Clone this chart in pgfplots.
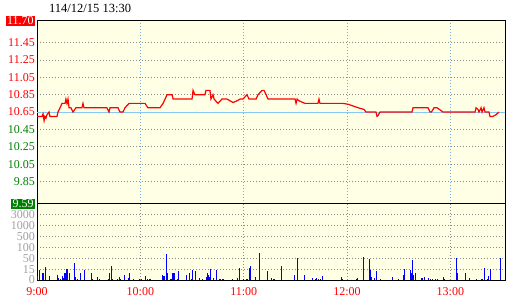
\documentclass[border=0pt]{standalone}
\usepackage{fontspec}
\setmainfont{Liberation Serif}
\usepackage{pgfplots}
\pgfplotsset{compat=1.18}
\definecolor{upred}{RGB}{255,0,0}
\definecolor{dngreen}{RGB}{0,128,0}
\definecolor{bgyellow}{RGB}{255,255,230}
\definecolor{refblue}{RGB}{135,200,245}
\definecolor{vgridblue}{RGB}{110,170,230}
\definecolor{gridgray}{RGB}{140,140,140}
\definecolor{vgray}{RGB}{160,160,160}
\definecolor{volblue}{RGB}{0,0,255}
\setlength{\fboxsep}{1.2bp}
\newcommand{\lf}{\fontsize{12bp}{14bp}\selectfont}
\begin{document}
\begin{tikzpicture}
\path (0,0) rectangle (520bp,300bp);
\node[anchor=west, inner sep=0, font=\fontsize{12.5bp}{14bp}\selectfont] at (49bp,292bp) {114/12/15 13:30};
% ---------- price panel ----------
\begin{axis}[
  at={(37bp,96bp)}, anchor=south west, scale only axis,
  width=468bp, height=183bp,
  xmin=0, xmax=271.7, ymin=9.59, ymax=11.70,
  axis line style={black, line width=1bp},
  axis background/.style={fill=bgyellow},
  major tick length=0, tick style={draw=none},
  xtick={0,60,120,180,240}, xticklabels={},
  xmajorgrids, ymajorgrids,
  x grid style={vgridblue, dash pattern=on 1bp off 2bp, line width=1bp},
  y grid style={gridgray, dash pattern=on 1bp off 2bp, line width=1bp},
  ytick={9.85,10.05,10.25,10.45,10.85,11.05,11.25,11.45},
  yticklabels={{\color{dngreen}9.85},{\color{dngreen}10.05},{\color{dngreen}10.25},{\color{dngreen}10.45},{\color{upred}10.85},{\color{upred}11.05},{\color{upred}11.25},{\color{upred}11.45}},
  extra y ticks={9.59,10.65,11.70},
  extra y tick labels={{\colorbox{dngreen}{\color{white}9.59}},{\color{upred}10.65},{\colorbox{upred}{\color{white}11.70}}},
  extra y tick style={grid=none},
  yticklabel style={font=\lf, inner sep=1bp, xshift=-1bp},
  /pgf/number format/assume math mode=true,
]
\addplot[refblue, line width=1bp] coordinates {(0,10.65) (271.7,10.65)};
\addplot[upred, line width=1.2bp] coordinates {
(0,10.60) (2.9,10.60) (3.5,10.63) (4.1,10.55) (4.6,10.60) (5.2,10.58) (5.8,10.62) (7.0,10.65) (7.5,10.60) (11.6,10.60) (12.2,10.65) (13.4,10.70) (14.5,10.75) (16.3,10.75) (16.8,10.80) (17.4,10.75) (18.0,10.80) (18.6,10.70) (19.7,10.70) (20.9,10.65) (22.6,10.70) (26.1,10.70) (26.7,10.75) (27.3,10.70) (40.6,10.70) (41.8,10.65) (42.4,10.70) (47.0,10.70) (48.2,10.65) (49.9,10.65) (51.1,10.70) (53.4,10.75) (62.7,10.75) (64.4,10.70) (71.4,10.70) (73.2,10.75) (75.5,10.85) (78.4,10.85) (79.0,10.80) (90.0,10.80) (90.6,10.90) (91.7,10.85) (97.5,10.85) (98.1,10.90) (100.4,10.90) (101.0,10.80) (102.2,10.85) (102.8,10.80) (105.1,10.75) (107.4,10.80) (110.3,10.80) (112.1,10.78) (113.8,10.76) (116.1,10.78) (117.9,10.80) (119.6,10.80) (121.9,10.85) (123.1,10.80) (127.2,10.80) (128.3,10.85) (130.6,10.90) (131.8,10.90) (133.0,10.85) (134.1,10.80) (149.8,10.80) (150.4,10.75) (151.0,10.80) (152.1,10.78) (154.4,10.76) (155.6,10.75) (163.1,10.75) (163.7,10.80) (164.3,10.75) (177.7,10.75) (180.6,10.74) (183.5,10.72) (186.4,10.70) (189.9,10.68) (191.0,10.65) (196.8,10.65) (197.4,10.60) (198.0,10.61) (199.1,10.65) (217.7,10.65) (218.3,10.70) (227.0,10.70) (228.2,10.65) (229.0,10.65) (230.5,10.70) (232.2,10.70) (234.0,10.675) (235.7,10.65) (254.3,10.65) (254.9,10.70) (256.0,10.68) (256.6,10.65) (257.8,10.70) (258.4,10.65) (259.5,10.70) (260.1,10.65) (262.4,10.65) (263.0,10.60) (264.7,10.60) (266.5,10.62) (268.2,10.65)
};
\end{axis}
% ---------- volume panel ----------
\begin{axis}[
  at={(37bp,20bp)}, anchor=south west, scale only axis,
  width=468bp, height=76bp,
  xmin=0, xmax=271.7, ymin=0, ymax=7,
  axis line style={black, line width=1bp},
  axis background/.style={fill=bgyellow},
  major tick length=0, tick style={draw=none},
  xtick={0,60,120,180,240}, xticklabels={9:00,10:00,11:00,12:00,13:00},
  xticklabel style={font=\lf, text=upred, inner sep=0pt, yshift=-7.5bp},
  xmajorgrids, ymajorgrids,
  x grid style={gridgray, dash pattern=on 1bp off 2bp, line width=1bp},
  y grid style={gridgray, dash pattern=on 1bp off 2bp, line width=1bp},
  ytick={0,1,2,3,4,5,6}, yticklabels={0,15,50,100,500,1000,3000},
  yticklabel style={font=\lf, text=vgray, inner sep=1bp, xshift=-1bp},
  /pgf/number format/assume math mode=true,
]
\addplot[ycomb, volblue, line width=1.4bp] coordinates {
(0.4,0.4) (1.3,0.95) (3.1,0.65) (3.9,0.65) (4.8,1.17) (7.1,0.33) (11.8,0.5) (12.6,0.2) (13.5,0.1) (14.7,0.33) (15.3,0.2) (16.3,0.65) (17.0,1.05) (17.8,1.05) (18.8,0.65) (21.7,1.6) (22.2,0.3) (23.4,0.1) (25.1,0.65) (27.5,0.95) (31.8,0.65) (32.3,0.1) (35.0,0.25) (36.2,0.1) (41.4,0.1) (42.2,0.65) (43.1,1.3) (43.7,0.1) (46.6,0.1) (47.8,0.25) (48.6,0.1) (50.7,0.45) (53.2,0.2) (53.8,0.65) (56.1,0.1) (59.6,0.1) (60.8,0.1) (63.1,0.33) (64.0,0.1) (65.2,0.1) (66.0,0.1) (72.7,0.5) (73.6,0.35) (74.1,0.35) (75.1,2.43) (75.7,0.65) (77.8,0.1) (79.0,0.65) (79.7,0.65) (81.6,0.1) (82.0,0.8) (86.7,0.5) (88.4,0.65) (89.6,0.1) (90.2,0.9) (91.9,0.85) (94.2,0.2) (96.0,0.1) (98.3,0.3) (98.9,0.65) (99.5,0.5) (100.0,0.3) (100.6,1.05) (102.4,0.2) (104.1,0.9) (105.8,0.1) (106.4,0.1) (107.6,0.1) (108.2,0.1) (113.4,0.1) (116.3,0.2) (117.5,1.15) (119.8,0.1) (121.5,0.1) (122.1,0.1) (123.3,1.1) (123.8,1.3) (126.7,0.3) (129.1,2.5) (133.7,0.85) (136.0,0.2) (137.2,0.1) (137.8,0.1) (141.8,1.25) (149.4,0.5) (151.1,2.05) (155.2,0.5) (159.8,0.2) (161.6,0.1) (162.2,0.2) (163.3,0.1) (164.5,0.1) (165.6,0.4) (176.8,0.3) (177.3,0.1) (185.6,0.1) (186.2,0.2) (189.4,2.15) (192.9,1.95) (193.5,0.95) (194.1,0.3) (195.8,0.2) (197.0,0.85) (199.3,0.1) (206.3,0.3) (209.8,0.1) (212.7,0.5) (213.3,1.05) (216.7,0.95) (217.3,0.65) (217.9,1.8) (218.5,0.5) (219.6,0.65) (223.1,0.2) (223.7,0.2) (224.9,0.3) (227.2,0.2) (228.4,0.1) (229.5,0.1) (231.3,0.1) (232.4,0.1) (235.9,0.3) (236.5,0.1) (243.4,2.0) (244.0,0.65) (248.7,0.65) (251.0,0.2) (255.1,0.1) (258.0,0.1) (258.5,0.1) (259.7,1.15) (261.4,0.1) (262.0,0.4) (263.2,1.05) (269.0,2.05)
};
\end{axis}
\end{tikzpicture}
\end{document}
